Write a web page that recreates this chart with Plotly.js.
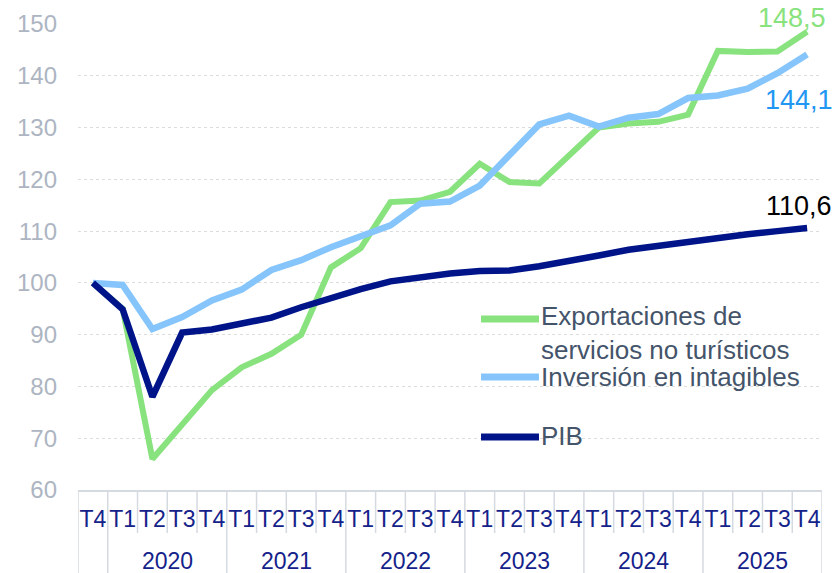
<!DOCTYPE html>
<html>
<head>
<meta charset="utf-8">
<script src="https://cdn.plot.ly/plotly-3.0.1.min.js"></script>
<style>html,body{margin:0;padding:0;background:#fff;}#chart{width:840px;height:573px;}</style>
</head>
<body>
<div id="chart"></div>
<script>
// Categories (quarter + year)
var quarters = ['T4','T1','T2','T3','T4','T1','T2','T3','T4','T1','T2','T3','T4','T1','T2','T3','T4','T1','T2','T3','T4','T1','T2','T3','T4'];
var years = ['2019','2020','2020','2020','2020','2021','2021','2021','2021','2022','2022','2022','2022','2023','2023','2023','2023','2024','2024','2024','2024','2025','2025','2025','2025'];
var yearLabels = ['2020','2021','2022','2023','2024','2025'];

// Series (index, T4 2019 = 100)
var exportaciones = [100, 95.0, 66.0, 72.8, 79.3, 83.7, 86.3, 90.0, 103.0, 106.7, 115.6, 115.9, 117.6, 123.0, 119.5, 119.2, 124.5, 130.0, 130.8, 131.1, 132.5, 144.8, 144.6, 144.7, 148.5];
var intangibles  = [100, 99.6, 91.1, 93.4, 96.6, 98.7, 102.5, 104.4, 106.9, 109.0, 111.1, 115.3, 115.7, 118.8, 124.9, 130.6, 132.3, 130.2, 131.9, 132.6, 135.7, 136.2, 137.5, 140.5, 144.1];
var pib          = [100, 94.9, 78.0, 90.4, 91.0, 92.2, 93.3, 95.3, 97.2, 98.8, 100.3, 101.2, 101.8, 102.3, 102.4, 103.2, 104.1, 105.3, 106.4, 107.2, 108.1, 108.6, 109.4, 110.0, 110.6];

var names = ['Exportaciones de<br>servicios no turísticos', 'Inversión en intagibles', 'PIB'];
var colors = ['#88e27e', '#86c5fb', '#001489'];
var labelColors = ['#88e27e', '#2196f3', '#000000'];

// unique category keys (quarter + year), shown with the quarter text only
var cats = quarters.map(function (q, i) { return q + ' ' + years[i]; });
var series = [exportaciones, intangibles, pib];
var widths = [6, 6.5, 6.5];

var traces = series.map(function (s, k) {
  return {
    type: 'scatter', mode: 'lines', x: cats, y: s, name: names[k],
    showlegend: false,
    line: {color: colors[k], width: widths[k]},
    hoverinfo: 'skip'
  };
});

var last = cats.length - 1;
var fmt = function (v) { return v.toFixed(1).replace('.', ','); };
var shifts = [[-15, 14], [-8, -45], [-8, 22]];
var annotations = series.map(function (s, k) {
  return {
    xref: 'x', yref: 'y', x: cats[last], y: s[last], text: fmt(s[last]),
    showarrow: false, xanchor: 'center', yanchor: 'middle',
    xshift: shifts[k][0], yshift: shifts[k][1],
    font: {size: 27, color: labelColors[k]}
  };
});

// year group labels, centred on their quarters
yearLabels.forEach(function (yr) {
  var idx = [];
  years.forEach(function (y, i) { if (y === yr) idx.push(i); });
  var mid = (idx[0] + idx[idx.length - 1]) / 2;
  annotations.push({
    xref: 'x', yref: 'paper', x: mid, y: -71 / 466, text: yr,
    showarrow: false, xanchor: 'center', yanchor: 'middle',
    font: {size: 23, color: '#14228a'}
  });
});

// category boundaries: short between quarters, long between years
var shapes = [];
for (var i = 0; i <= cats.length; i++) {
  var isYear = (i === 0 || i === cats.length || years[i] !== years[i - 1]);
  shapes.push({
    type: 'line', xref: 'x', yref: 'paper', x0: i - 0.5, x1: i - 0.5,
    y0: 0, y1: isYear ? -83 / 466 : -43 / 466,
    line: {color: '#d5dae1', width: 1.5}, layer: 'below'
  });
}

// legend (symbol line + label for each series)
var legSymY = [0.367, 0.2425, 0.1137];
var legTxtY = [0.3376, 0.2431, 0.1159];
series.forEach(function (s, k) {
  shapes.push({
    type: 'line', xref: 'paper', yref: 'paper', x0: 0.5417, x1: 0.6196,
    y0: legSymY[k], y1: legSymY[k], line: {color: colors[k], width: 7}
  });
  annotations.push({
    xref: 'paper', yref: 'paper', x: 0.6196, y: legTxtY[k], text: names[k],
    showarrow: false, xanchor: 'left', yanchor: 'middle', align: 'left',
    font: {size: 26, color: '#44546a'}
  });
});

var layout = {
  width: 840, height: 573,
  margin: {l: 78, r: 18, t: 24, b: 83},
  paper_bgcolor: '#ffffff', plot_bgcolor: '#ffffff',
  font: {family: 'Liberation Sans, Arial, sans-serif', size: 23, color: '#44546a'},
  showlegend: false,
  xaxis: {
    type: 'category', range: [-0.5, cats.length - 0.5],
    tickmode: 'array', tickvals: cats, ticktext: quarters,
    showgrid: false, zeroline: false,
    showline: true, linecolor: '#d5dae1', linewidth: 1.5,
    ticks: '', tickangle: 0, ticklabelstandoff: 8,
    tickfont: {size: 23, color: '#14228a'}
  },
  yaxis: {
    range: [60, 150], dtick: 10, tick0: 60,
    showgrid: true, gridcolor: '#dcdcdc', gridwidth: 1, griddash: 'dot',
    zeroline: false, showline: false, ticks: '',
    ticklabelstandoff: 20,
    tickfont: {size: 24, color: '#adb5c2'}
  },
  annotations: annotations,
  shapes: shapes
};

Plotly.newPlot('chart', traces, layout, {displayModeBar: false, staticPlot: true});
</script>
</body>
</html>
